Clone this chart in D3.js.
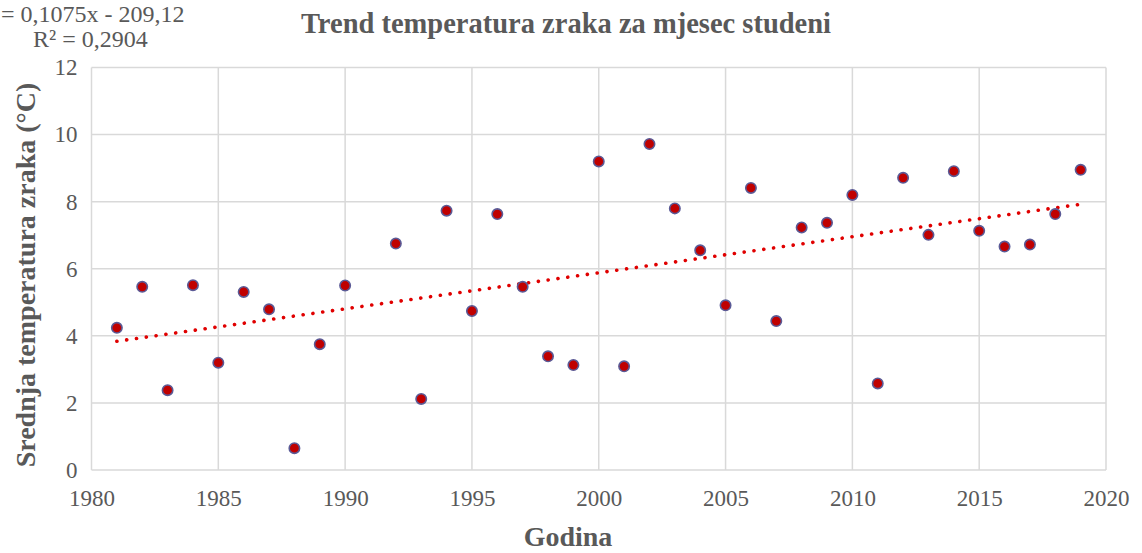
<!DOCTYPE html>
<html>

<head>
    <meta charset="UTF-8">
    <style>
        body {
            margin: 0;
            background-color: #ffffff;
        }

        .chart text {
            font-family: "Liberation Serif", "Times New Roman", serif;
            fill: #595959;
        }

        .grid line {
            stroke: #d9d9d9;
            stroke-width: 1.5;
        }

        .bold {
            font-weight: bold;
        }
    </style>
    <title>Trend temperatura zraka</title>
</head>

<body>
    <svg class="chart" id="chart" width="1142" height="553"></svg>

    <script src="https://d3js.org/d3.v7.min.js"></script>
    <script>
        // godine i srednje temperature (studeni), 1991 nema podatka
        const years = [1981, 1982, 1983, 1984, 1985, 1986, 1987, 1988, 1989, 1990,
            1992, 1993, 1994, 1995, 1996, 1997, 1998, 1999, 2000, 2001,
            2002, 2003, 2004, 2005, 2006, 2007, 2008, 2009, 2010, 2011,
            2012, 2013, 2014, 2015, 2016, 2017, 2018, 2019];
        const temps = [4.24, 5.46, 2.38, 5.51, 3.20, 5.31, 4.79, 0.65, 3.75, 5.50,
            6.75, 2.12, 7.73, 4.74, 7.63, 5.46, 3.39, 3.13, 9.20, 3.09,
            9.72, 7.80, 6.55, 4.91, 8.41, 4.44, 7.23, 7.37, 8.20, 2.58,
            8.71, 7.01, 8.91, 7.13, 6.66, 6.72, 7.63, 8.95];

        const xTicks = [1980, 1985, 1990, 1995, 2000, 2005, 2010, 2015, 2020];
        const yTicks = [0, 2, 4, 6, 8, 10, 12];

        // linearni trend iz Excela
        const slope = 0.1075, intercept = -209.12;
        const eqLines = ["= 0,1075x - 209,12", "R² = 0,2904"];

        const titleText = "Trend temperatura zraka za mjesec studeni";
        const xTitle = "Godina";
        const yTitle = "Srednja temperatura zraka (°C)";

        const width = 1142, height = 553;
        const margin = { left: 91.5, right: 36, top: 67.5, bottom: 83 };

        const svg = d3.select("#chart");

        const x = d3.scaleLinear()
            .domain([1980, 2020])
            .range([margin.left, width - margin.right]);

        const y = d3.scaleLinear()
            .domain([0, 12])
            .range([height - margin.bottom, margin.top]);

        // mreža
        const grid = svg.append("g").attr("class", "grid");
        grid.selectAll("line.h")
            .data(yTicks)
            .enter().append("line")
            .attr("class", "h")
            .attr("x1", x(1980)).attr("x2", x(2020))
            .attr("y1", d => y(d)).attr("y2", d => y(d));
        grid.selectAll("line.v")
            .data(xTicks)
            .enter().append("line")
            .attr("class", "v")
            .attr("x1", d => x(d)).attr("x2", d => x(d))
            .attr("y1", y(0)).attr("y2", y(12));

        // osi (samo oznake)
        const xAxis = svg.append("g")
            .attr("transform", `translate(0, ${y(0)})`)
            .call(d3.axisBottom(x).tickValues(xTicks).tickFormat(d3.format("d")).tickSize(0).tickPadding(20));
        xAxis.select(".domain").remove();
        xAxis.selectAll("text")
            .style("font-size", "23px")
            .style("font-family", "'Liberation Serif', serif")
            .attr("fill", "#595959");

        const yAxis = svg.append("g")
            .attr("transform", `translate(${margin.left}, 0)`)
            .call(d3.axisLeft(y).tickValues(yTicks).tickSize(0).tickPadding(14));
        yAxis.select(".domain").remove();
        yAxis.selectAll("text")
            .style("font-size", "23px")
            .style("font-family", "'Liberation Serif', serif")
            .attr("fill", "#595959");

        // trend linija (točkasta)
        const trend = d3.line()
            .x(d => x(d))
            .y(d => y(slope * d + intercept));
        svg.append("path")
            .datum([years[0], years[years.length - 1]])
            .attr("d", trend)
            .attr("fill", "none")
            .attr("stroke", "#e00000")
            .attr("stroke-width", 3.6)
            .attr("stroke-linecap", "round")
            .attr("stroke-dasharray", "0.1 9.8");

        // točke
        svg.append("g")
            .selectAll("circle")
            .data(years.map((yr, i) => ({ yr, t: temps[i] })))
            .enter().append("circle")
            .attr("cx", d => x(d.yr))
            .attr("cy", d => y(d.t))
            .attr("r", 5.2)
            .attr("fill", "#c00000")
            .attr("stroke", "#5a5a96")
            .attr("stroke-width", 1.6);

        // naslovi
        svg.append("text")
            .attr("class", "bold")
            .attr("x", 566)
            .attr("y", 33)
            .attr("text-anchor", "middle")
            .style("font-size", "28.5px")
            .text(titleText);

        svg.append("text")
            .attr("class", "bold")
            .attr("x", 568)
            .attr("y", 546)
            .attr("text-anchor", "middle")
            .style("font-size", "28px")
            .text(xTitle);

        svg.append("text")
            .attr("class", "bold")
            .attr("transform", `translate(35, ${275}) rotate(-90)`)
            .attr("text-anchor", "middle")
            .style("font-size", "28px")
            .text(yTitle);

        // jednadžba trenda
        svg.append("text")
            .attr("x", 1)
            .attr("y", 22)
            .style("font-size", "24px")
            .text(eqLines[0]);
        svg.append("text")
            .attr("x", 33)
            .attr("y", 47)
            .style("font-size", "24px")
            .text(eqLines[1]);
    </script>
</body>

</html>
